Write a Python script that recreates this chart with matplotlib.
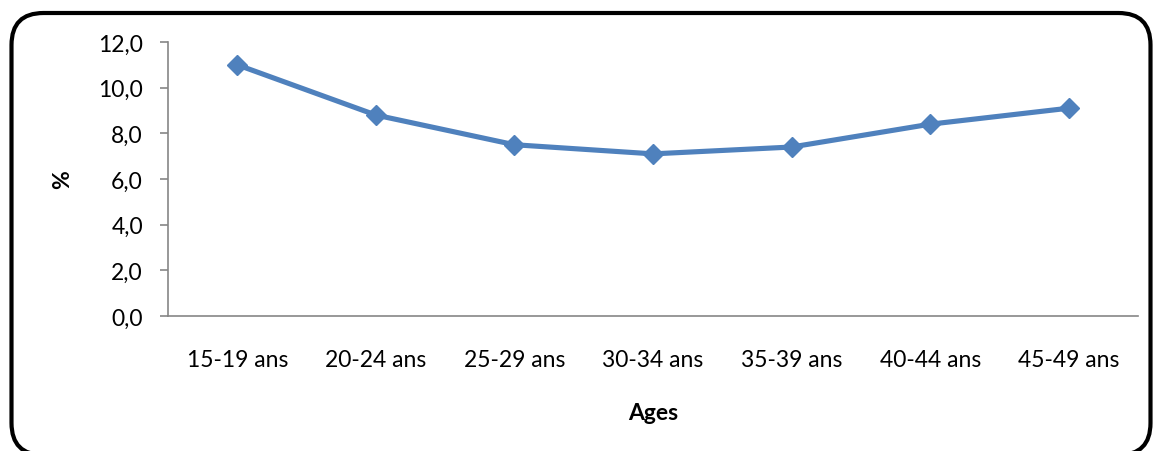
import matplotlib.pyplot as plt
from matplotlib.patches import FancyBboxPatch
from matplotlib.ticker import FuncFormatter, MultipleLocator

plt.rcParams['font.family'] = ['Lato', 'DejaVu Sans']

# Taux par groupe d'âges (%)
groupes = ["15-19 ans", "20-24 ans", "25-29 ans", "30-34 ans",
           "35-39 ans", "40-44 ans", "45-49 ans"]
taux = [11.0, 8.8, 7.5, 7.1, 7.4, 8.4, 9.1]

bleu = "#4F81BD"
gris = "#868686"

fig = plt.figure(figsize=(11.57, 4.52), dpi=100)
ax = fig.add_axes([0.1452, 0.2987, 0.8384, 0.6062])

x = range(len(groupes))
ax.plot(x, taux, color=bleu, lw=3.7, marker="D", ms=10,
        markerfacecolor=bleu, markeredgecolor=bleu, zorder=3)

ax.set_xlim(-0.5, len(groupes) - 0.5)
ax.set_ylim(0, 12)
ax.yaxis.set_major_locator(MultipleLocator(2))
ax.yaxis.set_major_formatter(FuncFormatter(lambda v, p: f"{v:.1f}".replace(".", ",")))
ax.set_xticks(list(x))
ax.set_xticklabels(groupes)

for s in ["top", "right"]:
    ax.spines[s].set_visible(False)
for s in ["left", "bottom"]:
    ax.spines[s].set_color(gris)
    ax.spines[s].set_linewidth(1.2)

ax.tick_params(axis="y", length=6, width=1.2, color=gris, pad=12, labelsize=16.5)
ax.tick_params(axis="x", length=0, pad=24, labelsize=16.5)

ax.set_ylabel("%", fontsize=16.5, fontweight="bold", labelpad=18)
ax.set_xlabel("Ages", fontsize=16.5, fontweight="bold", labelpad=23)

# cadre arrondi autour du graphique
cadre = FancyBboxPatch((0.115, -0.04), 11.39, 4.42,
                       boxstyle="round,pad=0,rounding_size=0.32",
                       transform=fig.dpi_scale_trans, fill=False,
                       edgecolor="black", lw=3.0, clip_on=False)
fig.patches.append(cadre)

fig.savefig("out.png", dpi=100)
